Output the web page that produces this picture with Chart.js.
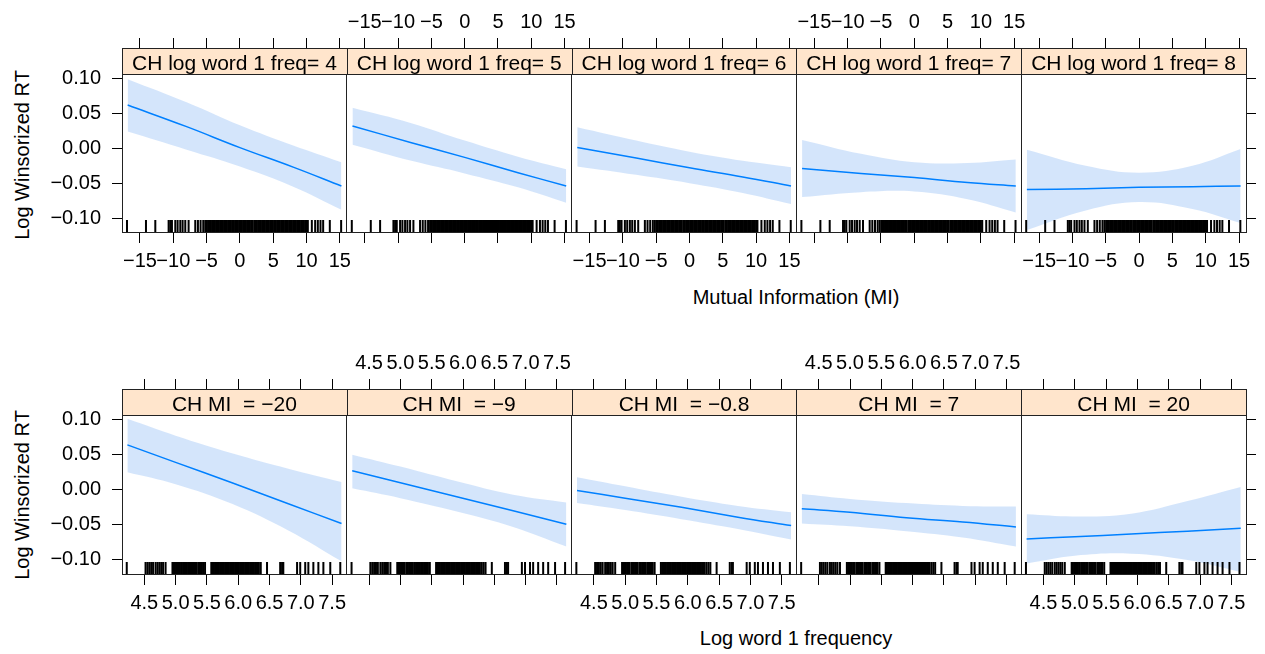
<!DOCTYPE html>
<html>
<head>
<meta charset="utf-8">
<script src="https://cdn.jsdelivr.net/npm/chart.js@4/dist/chart.umd.min.js"></script>
<style>
  html, body { margin: 0; padding: 0; background: #fff; }
  #page { position: relative; width: 1265px; height: 654px; overflow: hidden;
          font-family: "Liberation Sans", Arial, sans-serif; }
  #page canvas { position: absolute; left: 0; top: 0; }
  .lab { position: absolute; font-size: 20px; color: #000; white-space: nowrap;
         transform: translate(-50%, -50%); }
  .ylab { transform: translate(-50%, -50%) rotate(-90deg); }
</style>
</head>
<body>
<div id="page">
  <div class="lab ylab" style="left:22px;top:155px">Log Winsorized RT</div>
  <div class="lab ylab" style="left:22px;top:495px">Log Winsorized RT</div>
  <div class="lab" style="left:796px;top:297px">Mutual Information (MI)</div>
  <div class="lab" style="left:796px;top:638px">Log word 1 frequency</div>
</div>

<script>
/* ---------- data ---------- */
const rtTicks = [-0.10, -0.05, 0, 0.05, 0.10];
const rtTickLabels = ["\u22120.10", "\u22120.05", "0.00", "0.05", "0.10"];

const miTicks = [-15, -10, -5, 0, 5, 10, 15];
const miTickLabels = ["\u221215", "\u221210", "\u22125", "0", "5", "10", "15"];
const freqTicks = [4.5, 5.0, 5.5, 6.0, 6.5, 7.0, 7.5];
const freqTickLabels = ["4.5", "5.0", "5.5", "6.0", "6.5", "7.0", "7.5"];

// top row: effect of MI at each level of log word 1 freq
const freqLevels = ["CH log word 1 freq= 4", "CH log word 1 freq= 5", "CH log word 1 freq= 6",
                    "CH log word 1 freq= 7", "CH log word 1 freq= 8"];
const miGrid = [-16.85, -8, 0, 8, 15.24];
const miFit = [
  [0.062, 0.031, 0.001, -0.027, -0.054],
  [0.032, 0.008, -0.013, -0.035, -0.054],
  [0.001, -0.014, -0.028, -0.041, -0.054],
  [-0.029, -0.036, -0.042, -0.049, -0.054],
  [-0.059, -0.058, -0.056, -0.055, -0.054]
];
const miUpper = [
  [0.099, 0.066, 0.033, 0.004, -0.020],
  [0.058, 0.036, 0.011, -0.012, -0.030],
  [0.030, 0.011, -0.005, -0.018, -0.027],
  [0.012, -0.008, -0.020, -0.021, -0.016],
  [-0.002, -0.025, -0.035, -0.025, -0.001]
];
const miLower = [
  [0.024, -0.002, -0.026, -0.055, -0.088],
  [0.005, -0.018, -0.036, -0.056, -0.078],
  [-0.026, -0.038, -0.050, -0.064, -0.080],
  [-0.070, -0.063, -0.062, -0.073, -0.092],
  [-0.117, -0.089, -0.077, -0.087, -0.107]
];
const miRug = [-16.95, -14.1, -12.7, -10.7, -10.45, -10.2, -9.7, -9.35, -8.95, -8.6, -8.2, -7.7,
  -6.7, -6.3, -5.9, -5.5, -5.2,
  -4.95, -4.75, -4.55, -4.35, -4.15, -3.95, -3.75, -3.55, -3.35, -3.15, -2.95, -2.75, -2.55,
  -2.35, -2.15, -1.95, -1.75, -1.55, -1.35, -1.15, -0.9, -0.7, -0.5, -0.3, -0.1, 0.1, 0.3,
  0.5, 0.7, 0.9, 1.1, 1.3, 1.5, 1.7, 1.9, 2.15, 2.35, 2.55, 2.75, 2.95, 3.15, 3.35, 3.55,
  3.75, 3.95, 4.15, 4.35, 4.55, 4.75, 4.95, 5.15, 5.4, 5.6, 5.8, 6.0, 6.2, 6.4, 6.6, 6.8,
  7.0, 7.2, 7.4, 7.6, 7.8, 8.0, 8.2, 8.4, 8.6, 8.8, 9.0, 9.2, 9.4, 9.6, 9.8, 10.0, 10.2,
  10.8, 11.3, 11.7, 12.1, 12.5, 13.5, 15.2];

// bottom row: effect of log word 1 freq at each level of MI
const miLevels = ["CH MI  = \u221220", "CH MI  = \u22129", "CH MI  = \u22120.8",
                  "CH MI  = 7", "CH MI  = 20"];
const freqGrid = [4.23, 5.0, 5.9, 6.8, 7.65];
const freqFit = [
  [0.064, 0.039, 0.010, -0.020, -0.048],
  [0.027, 0.010, -0.010, -0.030, -0.049],
  [-0.001, -0.012, -0.025, -0.039, -0.051],
  [-0.027, -0.032, -0.040, -0.046, -0.053],
  [-0.070, -0.067, -0.063, -0.059, -0.055]
];
const freqUpper = [
  [0.101, 0.077, 0.052, 0.030, 0.011],
  [0.050, 0.033, 0.012, -0.007, -0.018],
  [0.018, 0.005, -0.010, -0.023, -0.032],
  [-0.006, -0.013, -0.019, -0.023, -0.024],
  [-0.035, -0.038, -0.034, -0.016, 0.004]
];
const freqLower = [
  [0.025, 0.008, -0.020, -0.058, -0.102],
  [0.002, -0.012, -0.031, -0.053, -0.081],
  [-0.019, -0.029, -0.042, -0.056, -0.071],
  [-0.048, -0.052, -0.059, -0.068, -0.081],
  [-0.105, -0.094, -0.091, -0.100, -0.117]
];
const freqRug = [4.22, 4.52, 4.55, 4.58, 4.61, 4.64, 4.68, 4.71, 4.74, 4.77, 4.80, 4.84,
  4.95, 4.97, 4.99, 5.01, 5.03, 5.05, 5.07, 5.10, 5.12, 5.14, 5.16, 5.18, 5.20, 5.23, 5.25,
  5.27, 5.29, 5.31, 5.33, 5.36, 5.38, 5.40, 5.42, 5.44, 5.47,
  5.57, 5.59, 5.61, 5.63, 5.65, 5.67, 5.69, 5.71, 5.73, 5.75, 5.77, 5.79, 5.81, 5.83, 5.85,
  5.87, 5.89, 5.91, 5.93, 5.95, 5.97, 5.99, 6.01, 6.03, 6.05, 6.07, 6.09, 6.11, 6.13, 6.15,
  6.17, 6.19, 6.21, 6.23, 6.25, 6.27, 6.30, 6.33, 6.36,
  6.46, 6.67, 6.70, 6.72, 6.94, 6.99, 7.07, 7.12, 7.20, 7.28, 7.36, 7.47, 7.63];

/* ---------- layout ---------- */
const PAGE_W = 1265, PAGE_H = 654;
const panelEdges = [122, 346.8, 571.6, 796.4, 1021.2, 1246];
const plotTops = [74, 415];
const plotBottoms = [232, 574];
const AX_LEFT = 80, AX_RIGHT = 15, AX_TOP = 70, AX_BOTTOM = 50;
const STRIP_H = 26;
const Y_MIN = -0.12, Y_MAX = 0.1065;
const RUG_Y = -0.1114;   // rug ticks sit on the panel floor
const FONT = { family: '"Liberation Sans", Arial, sans-serif', size: 20 };
const STRIP_FONT_SIZE = 21;
const BAND = "rgba(205,225,250,0.85)";
const LINE = "#0080ff";
const FRAME = "#222";
const HIDDEN = "rgba(0,0,0,0)";

Chart.defaults.font.family = FONT.family;
Chart.defaults.color = "#000";

/* ---------- strip plugin ---------- */
const stripPlugin = {
  id: "strip",
  afterDraw(chart, args, opts) {
    const { ctx, chartArea: a } = chart;
    const l = Math.round(a.left), r = Math.round(a.right), t = Math.round(a.top);
    ctx.save();
    ctx.fillStyle = "#ffe5cc";
    ctx.fillRect(l, t - STRIP_H, r - l, STRIP_H);
    ctx.strokeStyle = FRAME;
    ctx.lineWidth = 1;
    ctx.strokeRect(l + 0.5, t - STRIP_H + 0.5, r - l, STRIP_H);
    ctx.fillStyle = "#000";
    ctx.font = `${STRIP_FONT_SIZE}px ${FONT.family}`;
    ctx.textAlign = "center";
    ctx.textBaseline = "alphabetic";
    ctx.fillText(opts.text, (a.left + a.right) / 2, t - 4);
    ctx.restore();
  }
};

const pts = (xs, ys) => xs.map((x, i) => ({ x, y: ys[i] }));

function xAxis(pos, min, max, ticks, labels, showLabels) {
  const top = pos === "top";
  return {
    type: "linear", position: pos, min, max, bounds: "data",
    afterBuildTicks: s => { s.ticks = ticks.map(v => ({ value: v })); },
    afterFit: s => { s.height = top ? AX_TOP : AX_BOTTOM; },
    ticks: {
      autoSkip: false, maxRotation: 0, minRotation: 0,
      padding: top ? 4 : 6, font: FONT,
      color: showLabels ? "#000" : HIDDEN,
      callback: (v, i) => labels[i]
    },
    grid: { drawOnChartArea: false, drawTicks: true, tickLength: top ? 36 : 11,
            tickColor: "#000", tickWidth: 1 },
    border: { display: true, color: FRAME, width: 1 }
  };
}

function yAxis(pos, showTicks, showLabels) {
  const left = pos === "left";
  return {
    type: "linear", position: pos, min: Y_MIN, max: Y_MAX, bounds: "data",
    afterBuildTicks: s => { s.ticks = rtTicks.map(v => ({ value: v })); },
    afterFit: s => { s.width = left ? AX_LEFT : AX_RIGHT; },
    ticks: {
      padding: 11, font: FONT,
      color: showLabels ? "#000" : HIDDEN,
      callback: (v, i) => rtTickLabels[i]
    },
    grid: { drawOnChartArea: false, drawTicks: showTicks, tickLength: 10,
            tickColor: "#000", tickWidth: 1 },
    border: { display: true, color: FRAME, width: 1 }
  };
}

function makePanel(row, col) {
  const top = row === 0;
  const grid = top ? miGrid : freqGrid;
  const fit = (top ? miFit : freqFit)[col];
  const upper = (top ? miUpper : freqUpper)[col];
  const lower = (top ? miLower : freqLower)[col];
  const rug = top ? miRug : freqRug;
  const ticks = top ? miTicks : freqTicks;
  const labels = top ? miTickLabels : freqTickLabels;
  const xMin = top ? -17.7 : 4.144;
  const xMax = top ? 16.05 : 7.734;
  const stripText = (top ? freqLevels : miLevels)[col];

  const canvas = document.createElement("canvas");
  canvas.width = PAGE_W;
  canvas.height = PAGE_H;
  document.getElementById("page").appendChild(canvas);

  new Chart(canvas, {
    type: "line",
    data: {
      datasets: [
        { type: "scatter", data: rug.map(v => ({ x: v, y: RUG_Y })),
          pointStyle: "line", pointRotation: 90, pointRadius: 6,
          pointBorderColor: "#000", pointBorderWidth: 2, showLine: false },
        { data: pts(grid, fit), borderColor: LINE, borderWidth: 1.5,
          pointRadius: 0, tension: 0.4, fill: false },
        { data: pts(grid, upper), borderColor: HIDDEN, borderWidth: 0,
          pointRadius: 0, tension: 0.4, fill: "+1", backgroundColor: BAND },
        { data: pts(grid, lower), borderColor: HIDDEN, borderWidth: 0,
          pointRadius: 0, tension: 0.4, fill: false }
      ]
    },
    options: {
      responsive: false,
      animation: false,
      devicePixelRatio: 1,
      events: [],
      layout: {
        padding: {
          left: panelEdges[col] - AX_LEFT,
          right: PAGE_W - panelEdges[col + 1] - AX_RIGHT,
          top: plotTops[row] - AX_TOP,
          bottom: PAGE_H - plotBottoms[row] - AX_BOTTOM
        }
      },
      scales: {
        x: xAxis("bottom", xMin, xMax, ticks, labels, col % 2 === 0),
        x2: xAxis("top", xMin, xMax, ticks, labels, col % 2 === 1),
        y: yAxis("left", col === 0, col === 0),
        y2: yAxis("right", col === 4, false)
      },
      plugins: {
        legend: { display: false },
        tooltip: { enabled: false },
        strip: { text: stripText }
      }
    },
    plugins: [stripPlugin]
  });
}

for (let row = 0; row < 2; row++) {
  for (let col = 0; col < 5; col++) makePanel(row, col);
}
</script>
</body>
</html>
